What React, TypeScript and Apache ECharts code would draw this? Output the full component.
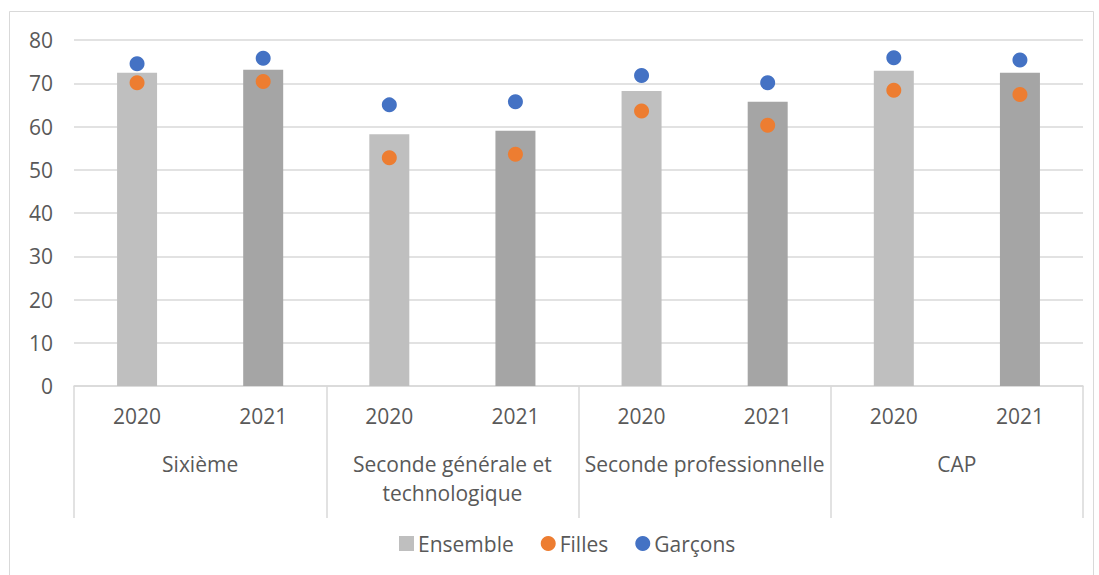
import React, { useEffect, useRef } from "react";
import * as echarts from "echarts";

const years = ["2020", "2021", "2020", "2021", "2020", "2021", "2020", "2021"];
const groups = ["Sixième", "Seconde générale et\ntechnologique", "Seconde professionnelle", "CAP"];
const ensemble = [72.4, 73.1, 58.2, 59.0, 68.2, 65.7, 72.9, 72.4];
const filles = [70.1, 70.4, 52.8, 53.6, 63.6, 60.3, 68.4, 67.4];
const garcons = [74.5, 75.8, 65.0, 65.7, 71.8, 70.1, 75.9, 75.4];
const yTicks = { min: 0, max: 80, interval: 10 };

const FONT = "Open Sans";
const TXT = "#595959";
const GRID = "#d9d9d9";
const FS = 21;

export default function App() {
  const ref = useRef<HTMLDivElement>(null);
  useEffect(() => {
    if (!ref.current) return;
    const chart = echarts.init(ref.current, undefined, { renderer: "svg" });
    chart.setOption({
      animation: false,
      textStyle: { fontFamily: FONT, color: TXT },
      graphic: [
        {
          type: "rect",
          shape: { x: 9.5, y: 11.5, width: 1084, height: 570 },
          style: { fill: "none", stroke: GRID, lineWidth: 1 },
          silent: true,
        },
      ],
      grid: { left: 74, right: 16, top: 40, bottom: 189, containLabel: false },
      legend: {
        bottom: 16,
        left: 394,
        itemWidth: 15,
        itemHeight: 15,
        itemGap: 27,
        textStyle: { fontFamily: FONT, color: TXT, fontSize: FS, padding: [0, 0, 0, -1] },
        data: [
          { name: "Ensemble", icon: "rect", itemStyle: { color: "#BFBFBF" } },
          { name: "Filles", icon: "circle" },
          { name: "Garçons", icon: "circle" },
        ],
      },
      xAxis: [
        {
          type: "category",
          data: years,
          position: "bottom",
          axisLine: { show: true, lineStyle: { color: GRID, width: 1.5 } },
          axisTick: { show: false },
          axisLabel: { color: TXT, fontSize: FS, fontFamily: FONT, margin: 19, interval: 0 },
        },
        {
          type: "category",
          data: groups,
          position: "bottom",
          axisLine: { show: false },
          axisTick: { show: true, interval: 0, length: 132, lineStyle: { color: GRID, width: 1.5 } },
          axisLabel: {
            color: TXT,
            fontSize: FS,
            fontFamily: FONT,
            margin: 63,
            lineHeight: 29,
            verticalAlign: "top",
            interval: 0,
          },
        },
      ],
      yAxis: {
        type: "value",
        min: yTicks.min,
        max: yTicks.max,
        interval: yTicks.interval,
        axisLine: { show: false },
        axisTick: { show: false },
        splitLine: { lineStyle: { color: GRID, width: 1.5 } },
        axisLabel: { color: TXT, fontSize: FS, fontFamily: FONT, margin: 21 },
      },
      series: [
        {
          name: "Ensemble",
          type: "bar",
          xAxisIndex: 0,
          barWidth: 40,
          itemStyle: { color: "#BFBFBF" },
          data: ensemble.map((v, i) => ({
            value: v,
            itemStyle: { color: i % 2 === 0 ? "#BFBFBF" : "#A5A5A5" },
          })),
        },
        {
          name: "Filles",
          type: "scatter",
          xAxisIndex: 0,
          symbolSize: 15,
          itemStyle: { color: "#ED7D31", opacity: 1 },
          data: filles,
        },
        {
          name: "Garçons",
          type: "scatter",
          xAxisIndex: 0,
          symbolSize: 15,
          itemStyle: { color: "#4472C4", opacity: 1 },
          data: garcons,
        },
      ],
    });
    return () => chart.dispose();
  }, []);
  return (
    <div
      ref={ref}
      style={{ position: "fixed", left: 0, top: 0, width: 1099, height: 575, background: "#fff" }}
    />
  );
}
